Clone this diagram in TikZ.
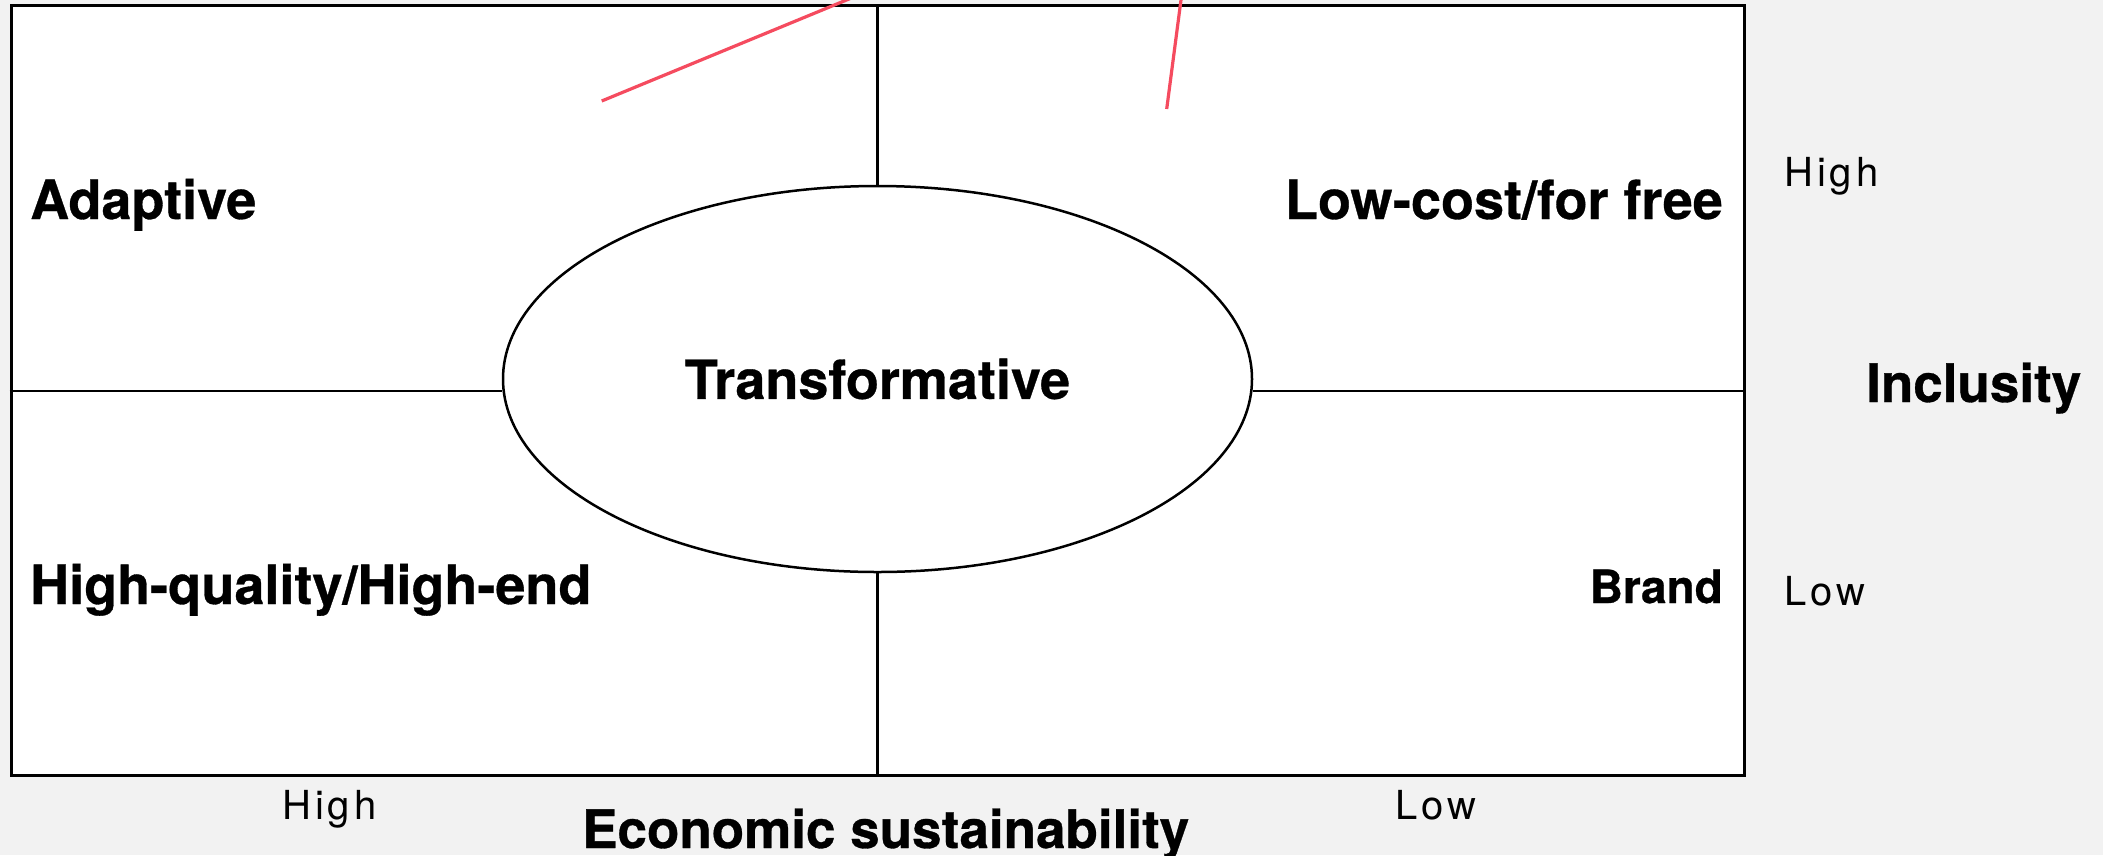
\documentclass[tikz,border=0pt]{standalone}
\usepackage{fontspec}
\setsansfont{TeX Gyre Heros}[BoldFeatures={FakeBold=0.6}]
\usetikzlibrary{shapes.geometric}
\definecolor{pagebg}{HTML}{F2F2F2}
\definecolor{marker}{RGB}{245,75,95}
\newfontfamily\axisfont[LetterSpace=10]{TeX Gyre Heros}
\begin{document}
\begin{tikzpicture}[x=1pt,y=-1pt,
  quadlabel/.style={font=\sffamily\bfseries\fontsize{54}{60}\selectfont, inner sep=0},
  smalllabel/.style={font=\sffamily\bfseries\fontsize{46}{52}\selectfont, inner sep=0},
  axistitle/.style={font=\sffamily\bfseries\fontsize{53}{60}\selectfont, inner sep=0},
  axislevel/.style={font=\axisfont\fontsize{40}{46}\selectfont, inner sep=0},
  divider/.style={draw=black, line width=2.5pt},
  markline/.style={draw=marker, line width=3.2pt}]
\useasboundingbox (0,0) rectangle (2103,855);
\clip (0,0) rectangle (2103,855);
\fill[pagebg] (0,0) rectangle (2103,855);

% matrix frame and central ellipse
\node[draw=black, fill=white, line width=3pt, inner sep=0,
      minimum width=1733pt, minimum height=770pt] (frame) at (877.5,390) {};
\coordinate (hl) at (877.5,391);
\node[ellipse, draw=black, line width=2.5pt, fill=white, inner sep=0,
      minimum width=749pt, minimum height=386pt,
      font=\sffamily\bfseries\fontsize{54}{60}\selectfont] (core) at (877.5,379) {Transformative};

% dividing lines
\draw[divider] (core.north) -- (frame.north -| core.north);
\draw[divider] (core.south) -- (frame.south -| core.south);
\draw[divider] (frame.west |- hl) -- (core.west |- hl);
\draw[divider] (core.east |- hl) -- (frame.east |- hl);

% quadrant labels
\node[quadlabel, anchor=base west] (adaptive) at (30,219) {Adaptive};
\node[quadlabel, anchor=base east] (lowcost) at (1723,219) {Low-cost/for free};
\node[quadlabel, anchor=base west] (highq) at (30,604) {High-quality/High-end};
\node[smalllabel, anchor=base east] (brand) at (1723,603) {Brand};

% vertical axis
\node[axislevel, anchor=base west] (inchigh) at (1784,186) {High};
\node[axistitle, anchor=base west] (incl) at (1866,402) {Inclusity};
\node[axislevel, anchor=base west] (inclow) at (1784,605) {Low};

% horizontal axis
\node[axislevel, anchor=base west] (ecohigh) at (282,819) {High};
\node[axistitle, anchor=base west] (eco) at (582,848) {Economic sustainability};
\node[axislevel, anchor=base west] (ecolow) at (1395,819) {Low};

% marker strokes
\coordinate (m1a) at (601.7,101);
\coordinate (m1b) at (895,-20);
\coordinate (m2a) at (1166.7,109);
\coordinate (m2b) at (1183.6,-20);
\draw[markline] (m1a) -- (m1b);
\draw[markline] (m2a) -- (m2b);
\end{tikzpicture}
\end{document}
